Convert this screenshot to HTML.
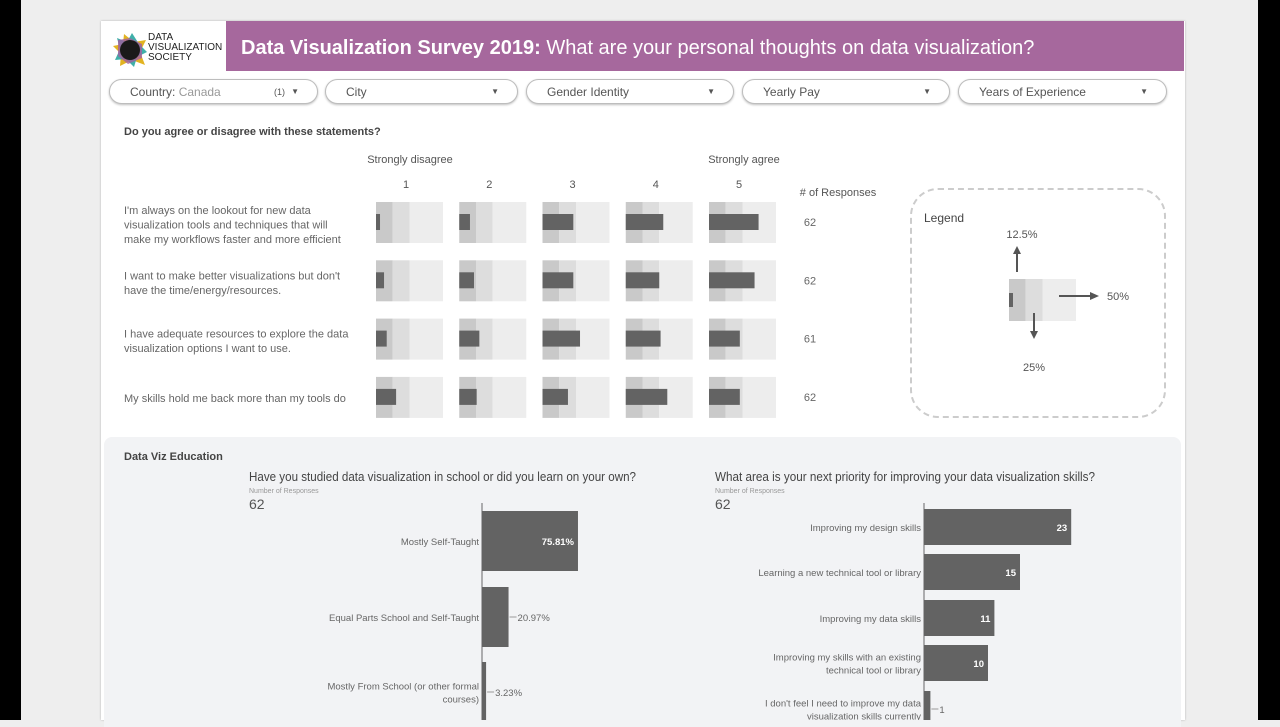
<!DOCTYPE html>
<html><head><meta charset="utf-8">
<style>
*{margin:0;padding:0;box-sizing:border-box}
body{width:1280px;height:720px;overflow:hidden;background:#eeeeee;font-family:"Liberation Sans",sans-serif;position:relative;color:#555}
.abs{position:absolute}
.filter{position:absolute;top:79px;height:25px;border:1px solid #bdbdbd;border-radius:13px;background:#fff;box-shadow:0 1px 2px rgba(0,0,0,.25);font-size:12px;color:#555;line-height:24px;padding-left:20px}
.filter .caret{position:absolute;right:18px;top:0;font-size:8px}
</style></head><body>
<div class="abs" style="left:0;top:0;width:21px;height:720px;background:#000"></div>
<div class="abs" style="left:1258px;top:0;width:22px;height:720px;background:#000"></div>
<div class="abs" style="left:101px;top:21px;width:1084px;height:699px;background:#fff;box-shadow:0 0 2px rgba(0,0,0,.25)"></div>
<div class="abs" style="left:112px;top:32px;width:110px;height:36px">
<svg width="36" height="36"><polygon points="12,2 22,10 34,8 28,20 33,33 20,28 8,34 9,22 1,14 11,12" fill="#e2b321"/><polygon points="20,1 27,12 35,20 25,25 22,35 14,27 3,28 8,17 5,6 15,10" fill="#2aa6a0" opacity=".9"/><polygon points="6,8 18,6 30,12 30,26 16,32 6,24" fill="#a25fa0" opacity=".8"/><circle cx="18" cy="18" r="10" fill="#1a1a1a"/></svg>
<div class="abs" style="left:36px;top:1px;font-size:10px;line-height:10px;color:#222">DATA<br>VISUALIZATION<br>SOCIETY</div>
</div>
<div class="abs" style="left:226px;top:21px;width:958px;height:50px;background:#a6689d;color:#fff;font-size:20px;line-height:54px;padding-left:15px;white-space:nowrap"><b>Data Visualization Survey 2019:</b> What are your personal thoughts on data visualization?</div>

<div class="filter" style="left:109px;width:209px">Country: <span style="color:#999">Canada</span><span class="abs" style="left:164px;font-size:9px">(1)</span><span class="caret">▼</span></div>
<div class="filter" style="left:325px;width:193px">City<span class="caret">▼</span></div>
<div class="filter" style="left:526px;width:208px">Gender Identity<span class="caret">▼</span></div>
<div class="filter" style="left:742px;width:208px">Yearly Pay<span class="caret">▼</span></div>
<div class="filter" style="left:958px;width:209px">Years of Experience<span class="caret">▼</span></div>

<div class="abs" style="left:124px;top:126px;font-size:11px;font-weight:bold;color:#444">Do you agree or disagree with these statements?</div>

<div class="abs" style="left:104px;top:437px;width:1077px;height:290px;background:#f2f3f5;border-radius:8px 8px 0 0"></div>
<div class="abs" style="left:124px;top:451px;font-size:11px;font-weight:bold;color:#444">Data Viz Education</div>

<div class="abs" style="left:910px;top:188px;width:256px;height:230px;border:2px dashed #ccc;border-radius:28px"></div>
<div class="abs" style="left:924px;top:211px;font-size:12px;color:#444">Legend</div>

<svg id="chart" class="abs" style="left:0;top:0" width="1280" height="720"></svg>

<script>
const statements=["I'm always on the lookout for new data|visualization tools and techniques that will|make my workflows faster and more efficient","I want to make better visualizations but don't|have the time/energy/resources.","I have adequate resources to explore the data|visualization options I want to use.","My skills hold me back more than my tools do"];
const scaleLabels=["1","2","3","4","5"];
const responses=[62,62,61,62];
const likertPct=[[3,8,23,28,37],[6,11,23,25,34],[8,15,28,26,23],[15,13,19,31,23]];
const bands=[12.5,25,50];
const eduCats=["Mostly Self-Taught","Equal Parts School and Self-Taught","Mostly From School (or other formal|courses)"];
const eduVals=[75.81,20.97,3.23];
const eduLabels=["75.81%","20.97%","3.23%"];
const prioCats=["Improving my design skills","Learning a new technical tool or library","Improving my data skills","Improving my skills with an existing|technical tool or library","I don't feel I need to improve my data|visualization skills currently"];
const prioVals=[23,15,11,10,1];

const svg=document.getElementById('chart');
const NS='http://www.w3.org/2000/svg';
function mk(t,a,txt){const e=document.createElementNS(NS,t);for(const k in a)e.setAttribute(k,a[k]);if(txt!==undefined)e.textContent=txt;svg.appendChild(e);return e;}
function lines(x,y,str,anchor,size,lh,col){str.split('|').forEach((s,i)=>{const t=mk('text',{x:x,y:y+i*lh,'text-anchor':anchor,'font-size':size,fill:col||'#555','font-family':'Liberation Sans, sans-serif'},s);});}

const cellX=i=>376+i*83.25, cellW=67;
const pctX=p=>p/50*cellW;
const rowY=r=>202+r*58.3;
let t=mk('text',{x:410,y:163,'text-anchor':'middle','font-size':11,fill:'#555'},'Strongly disagree');

t=mk('text',{x:744,y:163,'text-anchor':'middle','font-size':11,fill:'#555'},'Strongly agree');

t=mk('text',{x:838,y:196,'text-anchor':'middle','font-size':11,fill:'#555'},'# of Responses');

scaleLabels.forEach((s,i)=>{const e=mk('text',{x:cellX(i)+30,y:188,'text-anchor':'middle','font-size':11,fill:'#555'},s);});
statements.forEach((st,r)=>{
 const nl=st.split('|').length;
 lines(124,rowY(r)+12+(nl===2?7:0)+(nl===1?13:0),st,'start',11,14.5,'#666');
 const n=mk('text',{x:810,y:rowY(r)+24,'text-anchor':'middle','font-size':11,fill:'#666'},responses[r]);
 
 likertPct[r].forEach((v,c)=>{
  const x0=cellX(c),y0=rowY(r);
  const cols=['#c9c9c9','#dddddd','#ededed'];let prev=0;
  bands.forEach((b,bi)=>{const e=mk('rect',{x:x0+pctX(prev),y:y0,width:pctX(b-prev),height:41,fill:cols[bi]});prev=b;});
  const bar=mk('rect',{x:x0,y:y0+12,width:pctX(v),height:16,fill:'#636363'});
  
 });
});
(function(){const x0=1009,y0=279,cols=['#c9c9c9','#dddddd','#ededed'];let prev=0;
 bands.forEach((b,bi)=>{const e=mk('rect',{x:x0+pctX(prev),y:y0,width:pctX(b-prev),height:42,fill:cols[bi]});prev=b;});
 const e=mk('rect',{x:x0,y:y0+14,width:4,height:14,fill:'#636363'});
 const ar=(x1,y1,x2,y2)=>{mk('line',{x1:x1,y1:y1,x2:x2,y2:y2,stroke:'#555','stroke-width':2});};
 ar(1017,272,1017,252);mk('polygon',{points:'1013,254 1021,254 1017,246',fill:'#555'});
 ar(1034,313,1034,333);mk('polygon',{points:'1030,331 1038,331 1034,339',fill:'#555'});
 ar(1059,296,1092,296);mk('polygon',{points:'1090,292 1090,300 1099,296',fill:'#555'});
 [['12.5%',1022,238],['25%',1034,371],['50%',1118,300]].forEach(a=>{const q=mk('text',{x:a[1],y:a[2],'text-anchor':'middle','font-size':11,fill:'#555'},a[0]);});
})();

function hchart(title,titleW,x0,axisX,cats,vals,labels,unit,barYs,barH){
 let e=mk('text',{x:x0,y:481,'font-size':12.5,fill:'#444',textLength:titleW,lengthAdjust:'spacingAndGlyphs'},title);
 e=mk('text',{x:x0,y:493,'font-size':7,fill:'#999'},'Number of Responses');
 e=mk('text',{x:x0,y:509,'font-size':14,fill:'#555'},'62');
 e=mk('line',{x1:axisX,y1:503,x2:axisX,y2:720,stroke:'#666','stroke-width':1});
 cats.forEach((c,i)=>{
  const w=vals[i]*unit,y=barYs[i];
  const b=mk('rect',{x:axisX,y:y,width:w,height:barH,fill:'#636363'});
  const nl=c.split('|').length;
  lines(axisX-3,y+barH/2+4-(nl-1)*6.5,c,'end',9.5,13,'#666');
  const lab=labels?labels[i]:String(vals[i]);
  if(w>40){const q=mk('text',{x:axisX+w-4,y:y+barH/2+4,'text-anchor':'end','font-size':9.5,'font-weight':'bold',fill:'#fff'},lab);}
  else{mk('line',{x1:axisX+w+1,y1:y+barH/2,x2:axisX+w+8,y2:y+barH/2,stroke:'#999'});const q=mk('text',{x:axisX+w+9,y:y+barH/2+4,'font-size':9.5,fill:'#666'},lab);}
 });
}
hchart('Have you studied data visualization in school or did you learn on your own?',387,249,482,eduCats,eduVals,eduLabels,1.266,[511,587,662],60);
hchart('What area is your next priority for improving your data visualization skills?',380,715,924,prioCats,prioVals,null,6.4,[509,554,600,645,691],36);
</script>
</body></html>
